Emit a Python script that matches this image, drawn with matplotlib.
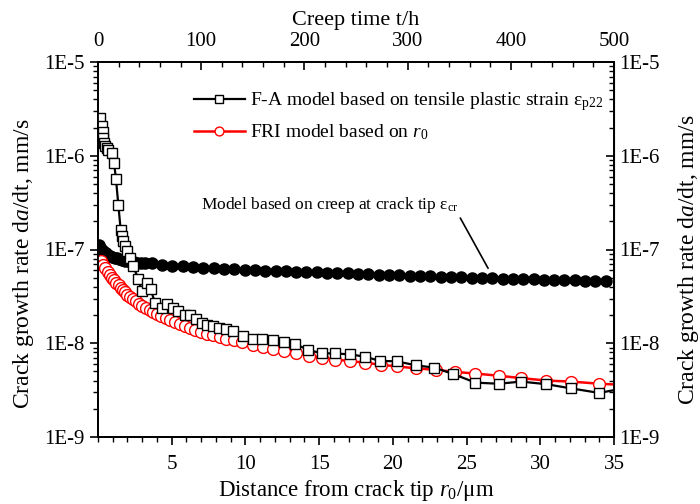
import matplotlib
matplotlib.use("Agg")
import matplotlib.pyplot as plt
from matplotlib.ticker import FixedLocator, LogLocator, NullFormatter, MultipleLocator

plt.rcParams['font.family'] = ['Liberation Serif', 'DejaVu Serif']
plt.rcParams['mathtext.fontset'] = 'custom'
plt.rcParams['mathtext.rm'] = 'Liberation Serif'
plt.rcParams['mathtext.it'] = 'Liberation Serif:italic'
plt.rcParams['font.size'] = 15

# ---- data ----
fa_r = [0.14, 0.25, 0.32, 0.36, 0.41, 0.48, 0.59, 0.7, 0.93, 1.09, 1.22, 1.38, 1.54, 1.65,
        1.72, 1.83, 1.99, 2.17, 2.4, 2.74, 2.96, 3.35, 3.57, 3.87, 4.32, 4.7, 5.07, 5.45,
        5.9, 6.24, 6.65, 7.03, 7.42, 7.82, 8.23, 8.68, 9.18, 9.82, 10.5, 11.1, 11.85, 12.6,
        13.36, 14.27, 15.18, 16.08, 17.1, 18.1, 19.1, 20.3, 21.6, 22.8, 24.1, 25.6, 27.2,
        28.7, 30.4, 32.1, 34.0, 35.6]
fa_rate = [2.5e-6, 2.1e-6, 1.8e-6, 1.55e-6, 1.38e-6, 1.26e-6, 1.22e-6, 1.16e-6, 1.07e-6,
           8.4e-7, 5.6e-7, 3.0e-7, 1.6e-7, 1.39e-7, 1.23e-7, 1.08e-7, 9.6e-8, 8.2e-8, 6.6e-8,
           4.8e-8, 3.6e-8, 4.4e-8, 3.8e-8, 2.67e-8, 2.4e-8, 2.6e-8, 2.4e-8, 2.2e-8, 2.0e-8,
           2.0e-8, 1.83e-8, 1.66e-8, 1.55e-8, 1.53e-8, 1.47e-8, 1.41e-8, 1.35e-8, 1.2e-8,
           1.1e-8, 1.12e-8, 1.08e-8, 1.02e-8, 9.8e-9, 8.5e-9, 7.8e-9, 7.8e-9, 7.6e-9, 7.2e-9,
           6.5e-9, 6.4e-9, 5.8e-9, 5.5e-9, 4.7e-9, 3.8e-9, 3.7e-9, 3.9e-9, 3.66e-9, 3.3e-9,
           2.95e-9, 3.3e-9]

fri_r = [0.2, 0.35, 0.5, 0.65, 0.8, 0.95, 1.1, 1.25, 1.4, 1.55, 1.7, 1.85, 2.0, 2.2, 2.4,
         2.6, 2.8, 3.0, 3.25, 3.5, 3.75, 4.0, 4.3, 4.6, 4.9, 5.2, 5.55, 5.9, 6.25, 6.6, 7.0,
         7.4, 7.8, 8.25, 8.7, 9.2, 9.8, 10.5, 11.2, 11.9, 12.6, 13.4, 14.3, 15.2, 16.1, 17.1,
         18.1, 19.2, 20.3, 21.6, 22.9, 24.2, 25.6, 27.2, 28.7, 30.4, 32.1, 34.0, 35.6]
fri_rate = [7.6e-8, 6.9e-8, 6.3e-8, 5.8e-8, 5.4e-8, 5.0e-8, 4.7e-8, 4.4e-8, 4.15e-8, 3.9e-8,
            3.7e-8, 3.5e-8, 3.3e-8, 3.1e-8, 2.95e-8, 2.8e-8, 2.65e-8, 2.5e-8, 2.38e-8,
            2.25e-8, 2.15e-8, 2.05e-8, 1.95e-8, 1.85e-8, 1.76e-8, 1.68e-8, 1.6e-8, 1.52e-8,
            1.45e-8, 1.39e-8, 1.33e-8, 1.27e-8, 1.22e-8, 1.17e-8, 1.12e-8, 1.07e-8, 1.02e-8,
            9.6e-9, 9.1e-9, 8.7e-9, 8.3e-9, 7.9e-9, 7.4e-9, 7.0e-9, 6.7e-9, 6.45e-9, 6.2e-9,
            5.9e-9, 5.65e-9, 5.4e-9, 5.2e-9, 4.95e-9, 4.75e-9, 4.5e-9, 4.25e-9, 4.0e-9,
            3.9e-9, 3.7e-9, 3.6e-9]

creep_t = [0.5, 1, 2, 3, 4, 5, 6, 8, 10, 12, 14, 16, 18, 20, 23, 26, 29, 32, 35, 38, 42, 46,
           52, 62, 72, 82, 92, 102, 112, 122, 132, 142, 152, 162, 172, 182, 192, 202, 212,
           222, 232, 242, 252, 262, 272, 282, 292, 302, 312, 322, 332, 342, 352, 362, 372,
           382, 392, 402, 412, 422, 432, 442, 452, 462, 472, 482, 492]
creep_rate = [1.12e-7, 1.08e-7, 1.04e-7, 1.01e-7, 9.8e-8, 9.6e-8, 9.4e-8, 9.1e-8, 8.8e-8,
              8.6e-8, 8.4e-8, 8.2e-8, 8.05e-8, 7.9e-8, 7.75e-8, 7.6e-8, 7.5e-8, 7.4e-8,
              7.33e-8, 7.26e-8, 7.2e-8, 7.15e-8, 7.1e-8, 6.9e-8, 6.75e-8, 6.6e-8, 6.5e-8,
              6.4e-8, 6.3e-8, 6.22e-8, 6.14e-8, 6.07e-8, 6.0e-8, 5.95e-8, 5.9e-8, 5.85e-8,
              5.8e-8, 5.75e-8, 5.7e-8, 5.65e-8, 5.6e-8, 5.55e-8, 5.5e-8, 5.45e-8, 5.4e-8,
              5.35e-8, 5.3e-8, 5.26e-8, 5.22e-8, 5.18e-8, 5.14e-8, 5.1e-8, 5.06e-8, 5.02e-8,
              4.98e-8, 4.94e-8, 4.9e-8, 4.86e-8, 4.83e-8, 4.8e-8, 4.77e-8, 4.74e-8, 4.71e-8,
              4.68e-8, 4.65e-8, 4.62e-8, 4.59e-8]

ytick_vals = [1e-9, 1e-8, 1e-7, 1e-6, 1e-5]
ytick_labels = ['1E-9', '1E-8', '1E-7', '1E-6', '1E-5']
xtick_vals = [5, 10, 15, 20, 25, 30, 35]
ttick_vals = [0, 100, 200, 300, 400, 500]

# ---- figure ----
fig = plt.figure(figsize=(7.0, 5.04), dpi=100)
ax = fig.add_axes([98/700, 1-437/504, 516/700, 375/504])
axt = ax.twiny()
ax.set_zorder(2)
axt.set_zorder(1)
ax.patch.set_visible(False)

ax.set_yscale('log')
ax.set_ylim(1e-9, 1e-5)
ax.set_xlim(0, 35)
axt.set_xlim(0, 500)

axt.plot(creep_t, creep_rate, color='black', marker='o', ms=8, lw=1.2,
         markerfacecolor='black', markeredgecolor='black', clip_on=True)

ax.plot(fri_r, fri_rate, color='red', marker='o', ms=8.5, lw=1.8,
        markerfacecolor='white', markeredgecolor='red', markeredgewidth=1.0,
        label=r'FRI model based on $\mathit{r}_0$')
ax.plot(fa_r, fa_rate, color='black', marker='s', ms=7.5, lw=1.6,
        markerfacecolor='white', markeredgecolor='black', markeredgewidth=1.0,
        label=r'F-A model based on tensile plastic strain $\mathrm{ε_{p22}}$')

# ticks
ax.yaxis.set_major_locator(FixedLocator(ytick_vals))
ax.set_yticklabels(ytick_labels)
ax.yaxis.set_minor_locator(LogLocator(base=10, subs=[2, 3, 4, 5, 6, 7, 8, 9], numticks=20))
ax.yaxis.set_minor_formatter(NullFormatter())
ax.xaxis.set_major_locator(FixedLocator(xtick_vals))
ax.xaxis.set_minor_locator(MultipleLocator(1))
ax.tick_params(axis='both', which='major', direction='out', length=6, width=1.2, labelsize=15)
ax.tick_params(axis='x', which='major', pad=7)
ax.tick_params(axis='both', which='minor', direction='out', length=3.5, width=1.0)

axt.xaxis.set_major_locator(FixedLocator(ttick_vals))
axt.xaxis.set_minor_locator(MultipleLocator(20))
axt.tick_params(axis='x', which='major', direction='in', length=6, width=1.2, labelsize=15, pad=8)
axt.tick_params(axis='x', which='minor', direction='in', length=3.5, width=1.0)

axr = ax.secondary_yaxis('right')
axr.yaxis.set_major_locator(FixedLocator(ytick_vals))
axr.set_yticklabels(ytick_labels)
axr.yaxis.set_minor_locator(LogLocator(base=10, subs=[2, 3, 4, 5, 6, 7, 8, 9], numticks=20))
axr.yaxis.set_minor_formatter(NullFormatter())
axr.tick_params(axis='y', which='major', direction='in', length=6, width=1.2, labelsize=15)
axr.tick_params(axis='y', which='minor', direction='in', length=3.5, width=1.0)

for a in (ax, axt):
    for s in a.spines.values():
        s.set_linewidth(1.3)

ylab = r'Crack growth rate d$\mathit{a}$/dt, mm/s'
ax.set_ylabel(ylab, fontsize=17)
ax.yaxis.set_label_coords(-0.120, 0.462)
axr.set_ylabel(ylab, fontsize=17)
axr.yaxis.set_label_coords(1.12, 0.472, transform=ax.transAxes)
ax.set_xlabel(r'Distance from crack tip $\mathit{r}_0$/μm', fontsize=16.5, labelpad=3)
axt.set_xlabel('Creep time t/h', fontsize=16, labelpad=5)

handles, labels = ax.get_legend_handles_labels()
ax.legend(handles[::-1], labels[::-1], loc='upper left', bbox_to_anchor=(0.186, 0.925),
          frameon=False, fontsize=14, handlelength=2.6, borderpad=0, borderaxespad=0,
          labelspacing=0.5, handletextpad=0.3, markerscale=0.75)

ax.annotate(r'Model based on creep at crack tip $\mathrm{ε_{cr}}$',
            xy=(378, 6.3e-8), xycoords=axt.transData,
            xytext=(0.2, 0.618), textcoords='axes fraction', ha='left', va='center',
            fontsize=12.5,
            arrowprops=dict(arrowstyle='-', color='black', lw=1.2, shrinkA=0, shrinkB=0,
                            relpos=(1.0, 0.0)))

fig.savefig('out.png', dpi=100)
